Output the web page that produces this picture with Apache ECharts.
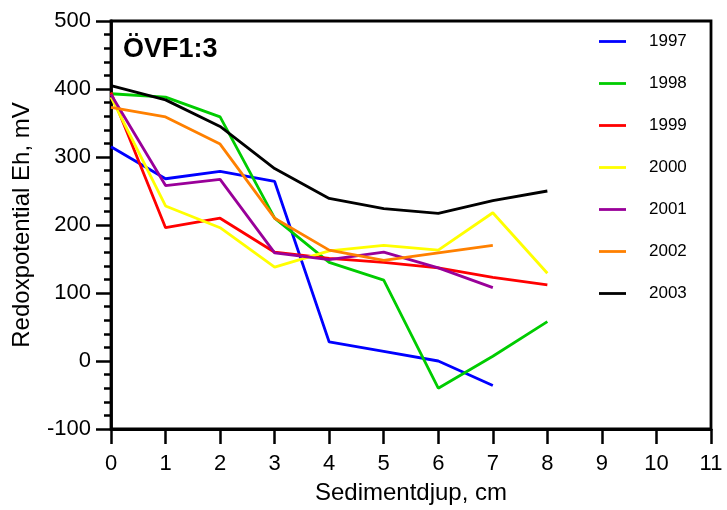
<!DOCTYPE html>
<html>
<head>
<meta charset="utf-8">
<script src="https://cdn.jsdelivr.net/npm/echarts@6/dist/echarts.min.js"></script>
<style>
  html, body { margin: 0; padding: 0; background: #fff; }
  #chart { width: 727px; height: 510px; }
</style>
</head>
<body>
<div id="chart"></div>
<script>
// Sediment depth (cm) for each measurement
const depths = [0, 1, 2, 3, 4, 5, 6, 7, 8];

// Redox potential Eh (mV) per year
const years = ['1997', '1998', '1999', '2000', '2001', '2002', '2003'];
const eh1997 = [315, 268, 279, 264, 28, 14, 0, -36];
const eh1998 = [393, 388, 359, 210, 145, 119, -40, 7, 58];
const eh1999 = [395, 196, 210, 160, 151, 145, 137, 123, 112];
const eh2000 = [388, 228, 196, 138, 162, 170, 163, 218, 129];
const eh2001 = [392, 258, 267, 159, 149, 160, 137, 108];
const eh2002 = [373, 359, 319, 210, 163, 148, 159, 170];
const eh2003 = [405, 384, 345, 283, 239, 224, 217, 236, 250];

const seriesValues = [eh1997, eh1998, eh1999, eh2000, eh2001, eh2002, eh2003];
const colors = ['#0000ff', '#00cc00', '#ff0000', '#ffff00', '#990099', '#ff8000', '#000000'];

const FONT = 'Liberation Sans, Arial, sans-serif';

const chart = echarts.init(document.getElementById('chart'), null, { renderer: 'canvas' });

chart.setOption({
  animation: false,
  backgroundColor: '#ffffff',
  title: {
    text: 'ÖVF1:3',
    left: 123,
    top: 36,
    padding: 0,
    textStyle: { fontFamily: FONT, fontSize: 27, fontWeight: 'bold', color: '#000' }
  },
  legend: {
    orient: 'vertical',
    left: 599,
    top: 30,
    padding: 0,
    itemWidth: 27,
    itemHeight: 14,
    itemGap: 19,
    icon: 'path://M0,0 L27,0 L27,2.8 L0,2.8 Z',
    textStyle: { fontFamily: FONT, fontSize: 17, lineHeight: 17, color: '#000', padding: [0, 0, 6, 18] },
    data: years
  },
  grid: {
    left: 111, top: 21, right: 16, bottom: 77,
    show: true, borderColor: '#000', borderWidth: 2.8, backgroundColor: 'transparent'
  },
  xAxis: {
    type: 'value',
    min: 0, max: 11, interval: 1,
    name: 'Sedimentdjup, cm',
    nameLocation: 'middle',
    nameGap: 52,
    nameTextStyle: { fontFamily: FONT, fontSize: 24, color: '#000' },
    axisLine: { show: true, onZero: false, lineStyle: { color: '#000', width: 2.8 } },
    axisTick: { show: true, length: 15, lineStyle: { color: '#000', width: 2.5 } },
    axisLabel: { fontFamily: FONT, fontSize: 22, color: '#000', margin: 24 },
    splitLine: { show: false }
  },
  yAxis: {
    type: 'value',
    min: -100, max: 500, interval: 100,
    name: 'Redoxpotential Eh, mV',
    nameLocation: 'middle',
    nameGap: 77,
    nameTextStyle: { fontFamily: FONT, fontSize: 24, color: '#000' },
    axisLine: { show: true, onZero: false, lineStyle: { color: '#000', width: 2.8 } },
    axisTick: { show: true, length: 15, lineStyle: { color: '#000', width: 2.5 } },
    minorTick: { show: true, splitNumber: 5, length: 7, lineStyle: { color: '#000', width: 2.5 } },
    axisLabel: { fontFamily: FONT, fontSize: 22, color: '#000', margin: 20 },
    splitLine: { show: false }
  },
  series: years.map((y, i) => ({
    name: y,
    type: 'line',
    symbol: 'none',
    color: colors[i],
    lineStyle: { color: colors[i], width: 2.8 },
    data: seriesValues[i].map((v, k) => [depths[k], v])
  }))
});
</script>
</body>
</html>
